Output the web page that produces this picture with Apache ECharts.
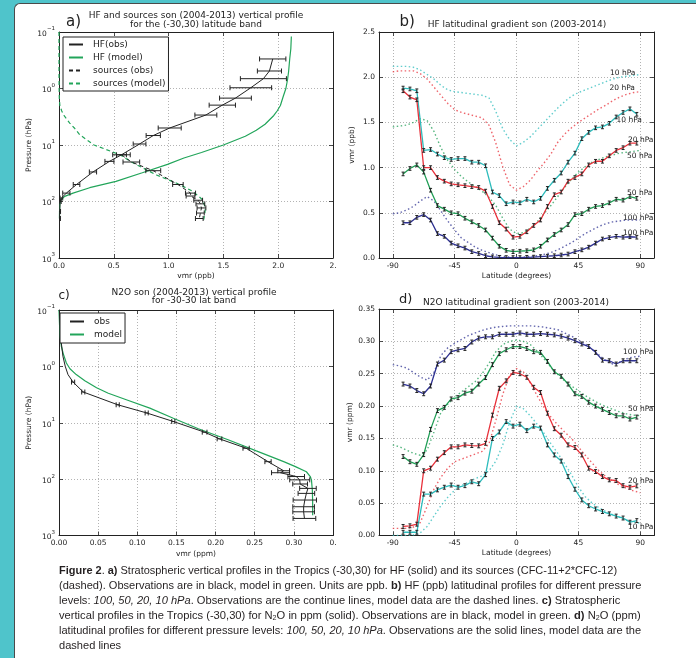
<!DOCTYPE html>
<html><head><meta charset="utf-8">
<script src="https://cdn.jsdelivr.net/npm/echarts@6/dist/echarts.min.js"></script>
<style>
html,body{margin:0;padding:0;width:696px;height:658px;overflow:hidden;background:#4fc4cb;}
#paper{position:absolute;left:14px;top:3px;width:682px;height:655px;background:#fff;border-left:1px solid #4a4a4a;border-top:1px solid #4a4a4a;border-top-left-radius:6px;}
#chart{position:absolute;left:0;top:0;width:696px;height:658px;}
#caption{position:absolute;left:59px;top:564px;font-family:"Liberation Sans Narrow","Liberation Sans",Arial,sans-serif;font-size:11px;color:#231f20;}
.ln{position:absolute;left:0;white-space:nowrap;line-height:13px;transform-origin:0 50%;}
.ln sub{font-size:7px;vertical-align:-1px;line-height:0;}
</style></head><body>
<div id="paper"></div>
<div id="chart"></div>
<div id="caption">
<div class="ln" data-w="558" style="top:0px"><b>Figure 2</b>. <b>a)</b> Stratospheric vertical profiles in the Tropics (-30,30) for HF (solid) and its sources (CFC-11+2*CFC-12)</div>
<div class="ln" data-w="582" style="top:15px">(dashed). Observations are in black, model in green. Units are ppb. <b>b)</b> HF (ppb) latitudinal profiles for different pressure</div>
<div class="ln" data-w="561" style="top:30px">levels: <i>100, 50, 20, 10 hPa</i>. Observations are the continue lines, model data are the dashed lines. <b>c)</b> Stratospheric</div>
<div class="ln" data-w="582" style="top:45px">vertical profiles in the Tropics (-30,30) for N<sub>2</sub>O in ppm (solid). Observations are in black, model in green. <b>d)</b> N<sub>2</sub>O (ppm)</div>
<div class="ln" data-w="582" style="top:60px">latitudinal profiles for different pressure levels: <i>100, 50, 20, 10 hPa</i>. Observations are the solid lines, model data are the</div>
<div class="ln" style="top:75px">dashed lines</div>
</div>
<script>
// ---------------- DATA ----------------
// Panel a: HF and sources vertical profile (x = vmr ppb, p = pressure hPa)
const aHfObsP   = [0.30,0.49,0.67,0.97,1.48,1.97,2.95,5.0,6.8,9.6,14.9,19.5,30,50,71,87,100,150,200];
const aHfObsX   = [1.95,1.92,1.865,1.75,1.61,1.49,1.34,1.01,0.86,0.735,0.57,0.46,0.31,0.16,0.067,0.022,0.01,0.006,0.005];
const aHfObsErr = [0.12,0.11,0.21,0.19,0.145,0.12,0.10,0.105,0.065,0.058,0.045,0.041,0.033,0.03,0.033,0.012,0.01,0.008,0.008];
const aHfModP   = [0.12,0.2,0.3,0.5,0.7,1.0,1.4,2.0,2.5,3.0,4.3,5.5,7.0,10,13.6,17,22,31,44,57,71,81,93,110,150,200];
const aHfModX   = [2.12,2.115,2.105,2.095,2.085,2.07,2.045,2.02,1.99,1.96,1.88,1.80,1.70,1.50,1.30,1.14,0.99,0.76,0.52,0.28,0.128,0.052,0.02,0.008,0.005,0.004];
const aSrcObsP   = [14.9,20,28.5,50,71,80,95,110,130,160,200];
const aSrcObsX   = [0.57,0.66,0.86,1.085,1.2,1.2,1.27,1.29,1.30,1.29,1.28];
const aSrcObsErr = [0.08,0.076,0.068,0.048,0.046,0.04,0.04,0.04,0.04,0.035,0.035];
const aSrcModP = [0.1,0.5,1.0,1.5,2.0,2.5,3.0,4.1,5.0,6.6,8.0,10,12,15,20,24,34,47,66,93,130,170,210];
const aSrcModX = [0.0,0.0,0.001,0.003,0.008,0.025,0.045,0.098,0.14,0.19,0.25,0.32,0.43,0.56,0.66,0.74,0.89,1.07,1.22,1.31,1.335,1.33,1.32];

// Panel c: N2O vertical profile (x = vmr ppm)
const cObsP   = [0.1,0.3,0.66,1.0,1.4,1.9,2.85,4.8,6.7,9.5,14.7,19.3,28.3,49,71,77,90,103,122,146,179,235,309,380,498];
const cObsX   = [0.0005,0.002,0.005,0.008,0.0115,0.018,0.031,0.075,0.112,0.146,0.186,0.205,0.239,0.267,0.287,0.283,0.303,0.3075,0.308,0.318,0.316,0.314,0.3125,0.3125,0.3135];
const cObsErr = [null,null,null,null,null,0.002,0.002,0.002,0.002,0.002,0.003,0.003,0.004,0.004,0.0075,0.0115,0.0106,0.0128,0.0094,0.0106,0.0106,0.0149,0.0138,0.0138,0.0145];
const cModP = [0.1,0.2,0.3,0.44,0.6,0.87,1.1,1.4,1.8,2.4,3.0,3.9,5.5,8.3,12.8,20,31.6,49,60,74,90,104,157,250,437];
const cModX = [0.0,0.0008,0.0015,0.003,0.0055,0.0094,0.014,0.022,0.033,0.048,0.063,0.086,0.116,0.146,0.178,0.216,0.252,0.287,0.302,0.316,0.321,0.3225,0.3236,0.324,0.324];

// Latitudes
const latObs = [-82.5,-77.5,-72.5,-67.5,-62.5,-57.5,-52.5,-47.5,-42.5,-37.5,-32.5,-27.5,-22.5,-17.5,-12.5,-7.5,-2.5,2.5,7.5,12.5,17.5,22.5,27.5,32.5,37.5,42.5,47.5,52.5,57.5,62.5,67.5,72.5,77.5,82.5,87.5];
const latMod = [-90,-85,-80,-75,-70,-65,-60,-55,-50,-45,-40,-35,-30,-25,-20,-15,-10,-5,0,5,10,15,20,25,30,35,40,45,50,55,60,65,70,75,80,85,90];
const latTicks = [-90,-45,0,45,90];

// Panel b: HF latitudinal gradient (ppb)
const bObs10  = [1.88,1.87,1.85,1.19,1.20,1.15,1.11,1.09,1.10,1.10,1.06,1.06,1.02,0.73,0.69,0.60,0.62,0.61,0.65,0.62,0.66,0.77,0.86,0.94,1.06,1.16,1.32,1.39,1.44,1.45,1.49,1.56,1.61,1.65,1.59];
const bObs20  = [1.85,1.78,1.75,1.00,1.00,0.89,0.85,0.82,0.81,0.80,0.79,0.78,0.74,0.57,0.39,0.32,0.23,0.24,0.29,0.36,0.42,0.57,0.70,0.73,0.85,0.89,0.93,1.03,1.07,1.07,1.13,1.19,1.22,1.27,1.27];
const bObs50  = [0.93,0.99,1.03,0.95,0.75,0.58,0.54,0.50,0.49,0.44,0.40,0.36,0.31,0.22,0.13,0.085,0.07,0.075,0.08,0.09,0.13,0.20,0.26,0.31,0.37,0.48,0.49,0.54,0.57,0.58,0.61,0.65,0.64,0.68,0.66];
const bObs100 = [0.39,0.39,0.45,0.48,0.42,0.27,0.24,0.165,0.135,0.11,0.07,0.05,0.025,0.012,0.008,0.005,0.005,0.005,0.008,0.01,0.015,0.02,0.025,0.033,0.044,0.07,0.09,0.12,0.165,0.21,0.225,0.24,0.23,0.235,0.23];
const bMod10  = [2.12,2.12,2.12,2.11,2.08,2.03,1.98,1.91,1.86,1.84,1.83,1.82,1.81,1.80,1.77,1.62,1.43,1.31,1.24,1.28,1.34,1.42,1.50,1.58,1.66,1.73,1.79,1.83,1.86,1.89,1.92,1.95,1.98,2.00,2.01,2.02,2.03];
const bMod20  = [2.06,2.07,2.07,2.07,2.04,1.98,1.89,1.80,1.71,1.64,1.61,1.59,1.57,1.55,1.47,1.27,1.01,0.81,0.75,0.79,0.86,0.96,1.05,1.15,1.28,1.37,1.44,1.50,1.55,1.60,1.65,1.69,1.74,1.78,1.81,1.83,1.84];
const bMod50  = [1.45,1.46,1.47,1.50,1.54,1.52,1.40,1.22,1.08,0.98,0.90,0.84,0.79,0.74,0.67,0.58,0.44,0.32,0.27,0.28,0.33,0.40,0.49,0.58,0.68,0.78,0.87,0.95,1.01,1.06,1.09,1.12,1.14,1.16,1.17,1.18,1.19];
const bMod100 = [0.49,0.50,0.53,0.57,0.63,0.68,0.63,0.52,0.41,0.31,0.22,0.17,0.12,0.085,0.06,0.035,0.02,0.01,0.008,0.01,0.015,0.025,0.04,0.06,0.09,0.13,0.17,0.22,0.27,0.31,0.35,0.38,0.40,0.41,0.42,0.42,0.42];
const bErr = 0.02;

// Panel d: N2O latitudinal gradient (ppm)
const dObs100 = [0.234,0.231,0.224,0.219,0.231,0.265,0.271,0.284,0.287,0.289,0.299,0.305,0.307,0.307,0.311,0.311,0.311,0.313,0.311,0.311,0.312,0.311,0.310,0.308,0.305,0.301,0.296,0.292,0.283,0.271,0.270,0.265,0.270,0.270,0.270];
const dObs50  = [0.122,0.114,0.110,0.125,0.164,0.193,0.198,0.211,0.213,0.220,0.223,0.234,0.244,0.264,0.281,0.287,0.292,0.292,0.289,0.284,0.283,0.269,0.253,0.246,0.234,0.219,0.215,0.206,0.200,0.195,0.190,0.185,0.185,0.180,0.183];
const dObs20  = [0.014,0.015,0.0175,0.100,0.104,0.118,0.128,0.137,0.137,0.140,0.139,0.1385,0.1425,0.186,0.2275,0.239,0.252,0.250,0.2445,0.229,0.221,0.189,0.165,0.155,0.140,0.136,0.1245,0.104,0.0988,0.091,0.086,0.085,0.077,0.0746,0.0767];
const dObs10  = [0.005,0.005,0.005,0.064,0.064,0.0705,0.0746,0.078,0.0746,0.077,0.083,0.080,0.094,0.150,0.160,0.176,0.169,0.172,0.162,0.169,0.166,0.140,0.1245,0.115,0.091,0.0715,0.055,0.046,0.041,0.037,0.0335,0.030,0.027,0.0206,0.023];
const dMod100 = [0.264,0.262,0.259,0.252,0.245,0.240,0.252,0.278,0.290,0.297,0.303,0.309,0.313,0.317,0.320,0.322,0.323,0.324,0.324,0.324,0.324,0.323,0.322,0.320,0.318,0.313,0.308,0.302,0.296,0.288,0.279,0.270,0.265,0.268,0.273,0.276,0.277];
const dMod50  = [0.140,0.137,0.132,0.127,0.124,0.132,0.160,0.190,0.203,0.214,0.222,0.230,0.238,0.250,0.266,0.284,0.295,0.300,0.302,0.300,0.295,0.285,0.273,0.260,0.249,0.239,0.231,0.224,0.216,0.210,0.204,0.199,0.195,0.191,0.188,0.186,0.185];
const dMod20  = [0.011,0.011,0.011,0.013,0.020,0.045,0.072,0.090,0.104,0.114,0.118,0.122,0.126,0.130,0.142,0.178,0.218,0.248,0.258,0.253,0.236,0.216,0.198,0.183,0.171,0.160,0.150,0.137,0.124,0.112,0.100,0.091,0.084,0.078,0.073,0.069,0.066];
const dMod10  = [0.000,0.000,0.000,0.001,0.004,0.014,0.030,0.046,0.059,0.070,0.077,0.083,0.088,0.092,0.100,0.115,0.140,0.175,0.200,0.196,0.185,0.172,0.158,0.142,0.127,0.111,0.094,0.075,0.060,0.050,0.043,0.037,0.032,0.028,0.024,0.021,0.019];
const dErr = 0.003;

// ---------------- STYLE ----------------
const FONT = 'DejaVu Sans';
const INK = '#222';
const C_CYAN = '#2dbcbc', C_RED = '#e8303a', C_GREEN = '#1f9e55', C_NAVY = '#2e3192', C_MOD = '#22a55a';
const GRID_LINE = {show:true, lineStyle:{color:'#a0a0a0', width:0.8, type:[1,2]}};
const TF = 7.5;

const grids = [
  {left:59, top:32, width:274, height:226},
  {left:379, top:32, width:275, height:226},
  {left:59, top:310, width:274, height:225.5},
  {left:379, top:309, width:275, height:226.5}
];

function tickCfg(common){
  const t = {show:true, inside:true, length:4, lineStyle:{color:INK, width:0.8}};
  if (common.customTicks) t.customValues = common.customTicks;
  return t;
}
function mainAxis(gi, common, pos, name, nameGap, labelCfg){
  const ax = {type:common.type, min:common.min, max:common.max, gridIndex:gi, position:pos,
    name:name, nameLocation:'middle', nameGap:nameGap,
    nameTextStyle:{fontFamily:FONT, fontSize:TF, color:INK},
    axisLine:{show:true, onZero:false, lineStyle:{color:INK, width:1}},
    axisTick:tickCfg(common),
    axisLabel:Object.assign({fontFamily:FONT, fontSize:TF, color:INK, margin:4}, labelCfg),
    splitLine:GRID_LINE};
  if (common.interval !== undefined) ax.interval = common.interval;
  if (common.logBase) ax.logBase = common.logBase;
  if (common.inverse) ax.inverse = true;
  return ax;
}
function frameAxis(gi, common, pos){
  const ax = {type:common.type, min:common.min, max:common.max, gridIndex:gi, position:pos,
    axisLine:{show:true, onZero:false, lineStyle:{color:INK, width:1}},
    axisTick:tickCfg(common), axisLabel:{show:false}, splitLine:{show:false}};
  if (common.interval !== undefined) ax.interval = common.interval;
  if (common.logBase) ax.logBase = common.logBase;
  if (common.inverse) ax.inverse = true;
  return ax;
}
const logY = {type:'log', logBase:10, min:0.1, max:1000, inverse:true};
const logLabel = {
  formatter: v => { const e = Math.round(Math.log10(v)); return '{b|10}{s|' + (e < 0 ? '\u2212' + (-e) : e) + '}'; },
  rich: { b:{fontFamily:FONT, fontSize:TF, color:INK, lineHeight:12, verticalAlign:'bottom'},
          s:{fontFamily:FONT, fontSize:5.5, color:INK, lineHeight:12, verticalAlign:'top', padding:[0,0,5,0]} }
};
const latX = {type:'value', min:-100, max:100, customTicks:latTicks};
const latLabel = {customValues:latTicks, formatter: v => String(v)};

const axA_x = {type:'value', min:0, max:2.5, interval:0.5};
const axB_y = {type:'value', min:0, max:2.5, interval:0.5};
const axC_x = {type:'value', min:0, max:0.35, interval:0.05};
const axD_y = {type:'value', min:0, max:0.35, interval:0.05};

const xAxis = [
  mainAxis(0, axA_x, 'bottom', 'vmr (ppb)', 14, {formatter: v => v === 2.5 ? '2.' : v.toFixed(1)}), frameAxis(0, axA_x, 'top'),
  mainAxis(1, latX, 'bottom', 'Latitude (degrees)', 14, latLabel), frameAxis(1, latX, 'top'),
  mainAxis(2, axC_x, 'bottom', 'vmr (ppm)', 15, {formatter: v => Math.abs(v - 0.35) < 1e-9 ? '0.' : v.toFixed(2)}), frameAxis(2, axC_x, 'top'),
  mainAxis(3, latX, 'bottom', 'Latitude (degrees)', 14, latLabel), frameAxis(3, latX, 'top')
];
const yAxis = [
  mainAxis(0, logY, 'left', 'Pressure (hPa)', 23, logLabel), frameAxis(0, logY, 'right'),
  mainAxis(1, axB_y, 'left', 'vmr (ppb)', 23, {formatter: v => v.toFixed(1)}), frameAxis(1, axB_y, 'right'),
  mainAxis(2, logY, 'left', 'Pressure (hPa)', 23, logLabel), frameAxis(2, logY, 'right'),
  mainAxis(3, axD_y, 'left', 'vmr (ppm)', 23, {formatter: v => v.toFixed(2)}), frameAxis(3, axD_y, 'right')
];

function pairs(xs, ys){ return xs.map((x, i) => [x, ys[i]]); }
function line(gi, name, data, color, width, type, z, opacity){
  return {type:'line', name:name, xAxisIndex:2*gi, yAxisIndex:2*gi, data:data, symbol:'none',
    lineStyle:{color:color, width:width, type:type || 'solid', opacity:opacity === undefined ? 1 : opacity},
    itemStyle:{color:color}, z:z || 2, silent:true, animation:false, clip:true};
}
function errBars(gi, rows, horizontal, cap){
  return {type:'custom', xAxisIndex:2*gi, yAxisIndex:2*gi, data:rows, z:5, silent:true, clip:true,
    encode:{x:0, y:1},
    renderItem: function(params, api){
      const a = api.value(0), b = api.value(1), e = api.value(2);
      let p1, p2;
      if (horizontal){ p1 = api.coord([a - e, b]); p2 = api.coord([a + e, b]); }
      else { p1 = api.coord([a, b - e]); p2 = api.coord([a, b + e]); }
      const st = {stroke:INK, lineWidth:1};
      const ch = [{type:'line', shape:{x1:p1[0], y1:p1[1], x2:p2[0], y2:p2[1]}, style:st}];
      [p1, p2].forEach(p => {
        ch.push(horizontal
          ? {type:'line', shape:{x1:p[0], y1:p[1]-cap, x2:p[0], y2:p[1]+cap}, style:st}
          : {type:'line', shape:{x1:p[0]-cap, y1:p[1], x2:p[0]+cap, y2:p[1]}, style:st});
      });
      return {type:'group', children:ch};
    }};
}
function rows3(xs, ys, es){
  const out = [];
  xs.forEach((x, i) => { const e = Array.isArray(es) ? es[i] : es; if (e != null) out.push([x, ys[i], e]); });
  return out;
}

const DOT = [1.5, 2.5];
const series = [
  // Panel a
  line(0, 'HF (model)', pairs(aHfModX, aHfModP), C_MOD, 1.2),
  line(0, 'sources (model)', pairs(aSrcModX, aSrcModP), C_MOD, 1.2, [4,3]),
  line(0, 'sources (obs)', pairs(aSrcObsX, aSrcObsP), INK, 1, [4,3], 3),
  line(0, 'HF(obs)', pairs(aHfObsX, aHfObsP), INK, 1, 'solid', 3),
  errBars(0, rows3(aHfObsX, aHfObsP, aHfObsErr), true, 2.5),
  errBars(0, rows3(aSrcObsX, aSrcObsP, aSrcObsErr), true, 2.5),
  // Panel b
  line(1, 'b m10', pairs(latMod, bMod10), C_CYAN, 1.4, DOT, 2, 0.75),
  line(1, 'b m20', pairs(latMod, bMod20), C_RED, 1.4, DOT, 2, 0.75),
  line(1, 'b m50', pairs(latMod, bMod50), C_GREEN, 1.4, DOT, 2, 0.75),
  line(1, 'b m100', pairs(latMod, bMod100), C_NAVY, 1.4, DOT, 2, 0.75),
  line(1, 'b o10', pairs(latObs, bObs10), C_CYAN, 1.3, 'solid', 3),
  line(1, 'b o20', pairs(latObs, bObs20), C_RED, 1.3, 'solid', 3),
  line(1, 'b o50', pairs(latObs, bObs50), C_GREEN, 1.3, 'solid', 3),
  line(1, 'b o100', pairs(latObs, bObs100), C_NAVY, 1.3, 'solid', 3),
  errBars(1, rows3(latObs, bObs10, bErr), false, 1.5),
  errBars(1, rows3(latObs, bObs20, bErr), false, 1.5),
  errBars(1, rows3(latObs, bObs50, bErr), false, 1.5),
  errBars(1, rows3(latObs, bObs100, bErr), false, 1.5),
  // Panel c
  line(2, 'model', pairs(cModX, cModP), C_MOD, 1.2),
  line(2, 'obs', pairs(cObsX, cObsP), INK, 1, 'solid', 3),
  errBars(2, rows3(cObsX, cObsP, cObsErr), true, 2.5),
  // Panel d
  line(3, 'd m100', pairs(latMod, dMod100), C_NAVY, 1.4, DOT, 2, 0.75),
  line(3, 'd m50', pairs(latMod, dMod50), C_GREEN, 1.4, DOT, 2, 0.75),
  line(3, 'd m20', pairs(latMod, dMod20), C_RED, 1.4, DOT, 2, 0.75),
  line(3, 'd m10', pairs(latMod, dMod10), C_CYAN, 1.4, DOT, 2, 0.75),
  line(3, 'd o100', pairs(latObs, dObs100), C_NAVY, 1.3, 'solid', 3),
  line(3, 'd o50', pairs(latObs, dObs50), C_GREEN, 1.3, 'solid', 3),
  line(3, 'd o20', pairs(latObs, dObs20), C_RED, 1.3, 'solid', 3),
  line(3, 'd o10', pairs(latObs, dObs10), C_CYAN, 1.3, 'solid', 3),
  errBars(3, rows3(latObs, dObs100, dErr), false, 1.5),
  errBars(3, rows3(latObs, dObs50, dErr), false, 1.5),
  errBars(3, rows3(latObs, dObs20, dErr), false, 1.5),
  errBars(3, rows3(latObs, dObs10, dErr), false, 1.5)
];

function txt(x, y, text, size, align, lh){
  return {type:'text', x:x, y:y, silent:true, z:10,
    style:{text:text, fill:INK, font:size + 'px "DejaVu Sans"', align:align || 'left', verticalAlign:'middle', lineHeight:lh || size*1.2}};
}
const graphic = [
  txt(66, 22.5, 'a)', 15), txt(399.5, 21.7, 'b)', 15), txt(58.5, 296, 'c)', 12), txt(399, 300, 'd)', 13),
  txt(196, 20.2, 'HF and sources son (2004-2013) vertical profile\nfor the (-30,30) latitude band', 9, 'center', 9.7),
  txt(517, 25, 'HF latitudinal gradient son (2003-2014)', 9, 'center'),
  txt(194, 297, 'N2O son (2004-2013) vertical profile\nfor -30-30 lat band', 9, 'center', 8),
  txt(516, 302.7, 'N2O latitudinal gradient son (2003-2014)', 9, 'center'),
  // panel b level labels
  txt(610, 73, '10 hPa', TF), txt(609.5, 88.5, '20 hPa', TF), txt(616.5, 120, '10 hPa', TF),
  txt(628, 140, '20 hPa', TF), txt(627, 156.5, '50 hPa', TF), txt(627, 193, '50 hPa', TF),
  txt(623, 218, '100 hPa', TF), txt(623, 233.3, '100 hPa', TF),
  // panel d level labels
  txt(623, 351.7, '100 hPa', TF), txt(628, 409.3, '50 hPa', TF), txt(628, 481, '20 hPa', TF), txt(628, 526.7, '10 hPa', TF)
];

const legendCommon = {orient:'vertical', itemWidth:14, selectedMode:false, borderColor:INK, borderWidth:1, borderRadius:0,
  backgroundColor:'#fff', itemStyle:{opacity:0}, textStyle:{fontFamily:FONT, fontSize:9, color:INK, padding:[0,0,0,5]}, z:20};
const legend = [
  Object.assign({}, legendCommon, {data:['HF(obs)','HF (model)','sources (obs)','sources (model)'], left:63, top:37,
    itemHeight:10, itemGap:4, padding:[3,3,3,5]}),
  Object.assign({}, legendCommon, {data:['obs','model'], left:60, top:313, itemHeight:8, itemGap:4, padding:[4,3,4,9]})
];

const chart = echarts.init(document.getElementById('chart'), null, {renderer:'canvas'});
chart.setOption({animation:false, grid:grids, xAxis:xAxis, yAxis:yAxis, series:series, graphic:graphic, legend:legend});

// fit caption lines to the reference widths
(function(){
  const lines = document.querySelectorAll('#caption .ln');
  let scales = [];
  lines.forEach(el => { const w = +el.getAttribute('data-w'); if (w) { const s = w / el.scrollWidth; scales.push(s); el.style.transform = 'scaleX(' + s + ')'; } });
  const avg = scales.reduce((a,b)=>a+b,0) / scales.length;
  lines.forEach(el => { if (!el.getAttribute('data-w')) el.style.transform = 'scaleX(' + avg + ')'; });
})();
</script>
</body></html>
